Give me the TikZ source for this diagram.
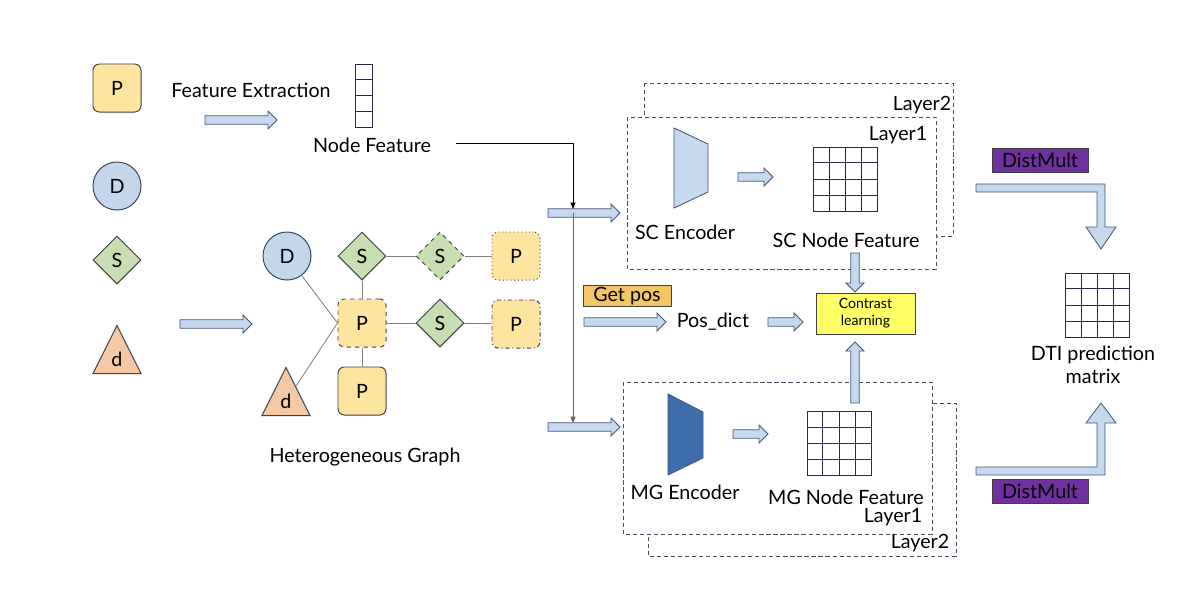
\documentclass[tikz,border=0pt]{standalone}
\usepackage{fontspec}
\setmainfont{Lato}
\usetikzlibrary{shapes.geometric,arrows.meta,positioning,calc}
\definecolor{pfill}{RGB}{253,229,160}
\definecolor{dfill}{RGB}{196,214,236}
\definecolor{sfill}{RGB}{200,221,178}
\definecolor{tfill}{RGB}{245,200,166}
\definecolor{edgegrey}{RGB}{64,64,64}
\definecolor{circedge}{RGB}{56,70,92}
\definecolor{afill}{RGB}{197,216,238}
\definecolor{aedge}{RGB}{68,88,118}
\definecolor{mgblue}{RGB}{61,109,173}
\definecolor{gridnavy}{RGB}{32,42,78}
\definecolor{posfill}{RGB}{245,199,100}
\definecolor{clfill}{RGB}{255,255,102}
\definecolor{dmfill}{RGB}{112,48,160}
\definecolor{dashgrey}{RGB}{70,80,100}

% block arrow from #1 to #2
\newcommand{\blockarrow}[2]{%
  \coordinate (hb) at ($(#2)!6.4pt!(#1)$);
  \draw[barrow] ($(#1)!3pt!90:(#2)$) -- ($(hb)!3pt!-90:(#1)$) -- ($(hb)!6.4pt!-90:(#1)$) -- (#2)
    -- ($(hb)!6.4pt!90:(#1)$) -- ($(hb)!3pt!90:(#1)$) -- ($(#1)!3pt!-90:(#2)$) -- cycle;}
% 4x4 cells inside a node
\newcommand{\cellgrid}[1]{%
  \foreach \i in {1,2,3} {
    \draw[gridline] ($(#1.north west)!\i/4!(#1.north east)$) -- ($(#1.south west)!\i/4!(#1.south east)$);
    \draw[gridline] ($(#1.north west)!\i/4!(#1.south west)$) -- ($(#1.north east)!\i/4!(#1.south east)$);
  }}

\begin{document}
\begin{tikzpicture}[x=0.025cm, y=-0.025cm,
    every node/.style={font=\fontsize{14}{16.5}\selectfont},
    pbox/.style={rectangle, rounded corners=4.5pt, draw=edgegrey, fill=pfill,
        line width=0.7pt, minimum size=1.2cm, inner sep=0pt},
    dcirc/.style={circle, draw=circedge, fill=dfill, line width=0.7pt,
        minimum size=1.2cm, inner sep=0pt},
    sdiam/.style={diamond, draw=edgegrey, fill=sfill, line width=0.7pt,
        minimum size=1.2cm, inner sep=0pt},
    dtri/.style={isosceles triangle, isosceles triangle stretches, shape border rotate=90,
        draw=edgegrey, fill=tfill, line width=0.7pt, minimum width=1.2cm,
        minimum height=1.2cm, inner sep=0pt, anchor=lower side},
    barrow/.style={draw=aedge, fill=afill, line width=0.6pt, line join=miter},
    edge/.style={draw=gray, line width=0.6pt},
    layerbox/.style={draw=dashgrey, line width=0.7pt, dash pattern=on 3pt off 2pt},
    gridline/.style={draw=gridnavy, line width=0.7pt},
    gridbox/.style={rectangle, gridline, minimum width=1.6cm, minimum height=1.6cm, inner sep=0pt},
    tagbox/.style={rectangle, draw=edgegrey, line width=0.6pt, inner sep=0pt},
    tip/.style={-{Triangle[length=4.5pt, width=3.5pt]}, line width=0.6pt}
]
    \useasboundingbox (0,0) rectangle (1200,594);

    % legend
    \node[pbox] (lp) at (117,88) {P};
    \node[dcirc] (ld) at (117,186) {D};
    \node[sdiam] (ls) at (117,260) {S};
    \node[dtri] (lt) at (117,374) {d};

    % feature extraction
    \node (fetext) at (251,90) {Feature Extraction};
    \coordinate (fea) at (205,120);
    \coordinate (feb) at (277,120);
    \blockarrow{fea}{feb}
    \node[rectangle, draw=gridnavy, line width=0.7pt, minimum width=0.425cm,
        minimum height=1.575cm, inner sep=0pt] (vec) at (363.5,95.5) {};
    \foreach \i in {1,2,3}
        \draw[gridline] ($(vec.north west)!\i/4!(vec.south west)$) -- ($(vec.north east)!\i/4!(vec.south east)$);
    \node (nftext) at (372,145) {Node Feature};

    % heterogeneous graph
    \coordinate (hga) at (180,324);
    \coordinate (hgb) at (252,324);
    \blockarrow{hga}{hgb}
    \node[dcirc] (gd) at (287,256) {D};
    \node[sdiam] (gs1) at (362,256) {S};
    \node[sdiam, dashed] (gs2) at (440,256) {S};
    \node[pbox, dotted] (gp1) at (516,256) {P};
    \node[pbox, dashed] (gpc) at (362,323) {P};
    \node[sdiam] (gs3) at (440,323) {S};
    \node[pbox, dash dot] (gp2) at (516,324) {P};
    \node[pbox] (gp3) at (362,391) {P};
    \node[dtri] (gt) at (286,416) {d};
    \draw[edge] (gd) -- (gpc.west);
    \draw[edge] (gt) -- (gpc.west);
    \draw[edge] (gs1) -- (gpc);
    \draw[edge] (gpc) -- (gp3);
    \draw[edge] (gs1) -- (gs2);
    \draw[edge] (gs2) -- (gp1);
    \draw[edge] (gpc) -- (gs3);
    \draw[edge] (gs3) -- (gp2);
    \node (hgtext) at (365,457) {Heterogeneous Graph};

    % layer frames
    \draw[layerbox] (644,83) rectangle (953,236);
    \draw[layerbox, fill=white] (627,117) rectangle (936,269);
    \draw[layerbox] (648,403) rectangle (956,556);
    \draw[layerbox, fill=white] (623,382) rectangle (932,534);
    \node (scl2) at (922,105) {Layer2};
    \node (scl1) at (898,135) {Layer1};
    \node (mgl1) at (893,517) {Layer1};
    \node (mgl2) at (920,543) {Layer2};

    % inputs to both branches
    \coordinate (nfout) at (456,143);
    \coordinate (jsc) at (573,209);
    \coordinate (jmg) at (573,423);
    \coordinate (scina) at (548,213);
    \coordinate (scinb) at (620,213);
    \coordinate (mgina) at (548,427);
    \coordinate (mginb) at (620,427);
    \blockarrow{scina}{scinb}
    \blockarrow{mgina}{mginb}
    \draw[tip, black] (nfout) -| (jsc);
    \draw[tip, gray!80!black] (573,213) -- (jmg);

    % SC branch
    \draw[draw=aedge, fill=afill, line width=0.6pt] (674,128) -- (708,144) -- (708,192) -- (674,208) -- cycle;
    \node (scenc) at (685,232) {SC Encoder};
    \coordinate (sca) at (738,177);
    \coordinate (scb) at (773,177);
    \blockarrow{sca}{scb}
    \node[gridbox] (scgrid) at (845.5,179) {};
    \cellgrid{scgrid}
    \node (scnf) at (846,240) {SC Node Feature};

    % MG branch
    \draw[draw=aedge, fill=mgblue, line width=0.6pt] (668,394) -- (703,412) -- (703,458) -- (668,475) -- cycle;
    \node (mgenc) at (685,492) {MG Encoder};
    \coordinate (mga) at (733,434);
    \coordinate (mgb) at (768,434);
    \blockarrow{mga}{mgb}
    \node[gridbox] (mggrid) at (839,443.5) {};
    \cellgrid{mggrid}
    \node (mgnf) at (846,497) {MG Node Feature};

    % contrast learning
    \node[tagbox, fill=posfill, minimum width=2.2cm, minimum height=0.525cm] (getpos) at (627,296) {Get pos};
    \coordinate (posa) at (584,322);
    \coordinate (posb) at (666,322);
    \blockarrow{posa}{posb}
    \node (posdict) at (713,322) {Pos\_dict};
    \coordinate (pda) at (768,322);
    \coordinate (pdb) at (803,322);
    \blockarrow{pda}{pdb}
    \node[tagbox, fill=clfill, minimum width=2.475cm, minimum height=1.025cm, align=center,
        font=\fontsize{10}{12}\selectfont] (cl) at (865.5,313.5) {Contrast\\learning};
    \coordinate (cla) at (855,253);
    \coordinate (clb) at (855,292);
    \coordinate (clc) at (855,403);
    \coordinate (cld) at (855,342);
    \blockarrow{cla}{clb}
    \blockarrow{clc}{cld}

    % prediction
    \node[tagbox, fill=dmfill, minimum width=2.4cm, minimum height=0.6cm] (dmtop) at (1040,160) {DistMult};
    \node[tagbox, fill=dmfill, minimum width=2.4cm, minimum height=0.6cm] (dmbot) at (1040,491) {DistMult};
    \draw[barrow] (976,184) -- (1105,184) -- (1105,227) -- (1116,227)
        -- (1101,249) -- (1086,227) -- (1097,227) -- (1097,192) -- (976,192) -- cycle;
    \draw[barrow] (976,475) -- (1105,475) -- (1105,423) -- (1116,423)
        -- (1101,403) -- (1086,423) -- (1097,423) -- (1097,467) -- (976,467) -- cycle;
    \node[gridbox] (dtigrid) at (1097.5,305) {};
    \cellgrid{dtigrid}
    \node[align=center] (dtitext) at (1093,365) {DTI prediction\\matrix};
\end{tikzpicture}
\end{document}
